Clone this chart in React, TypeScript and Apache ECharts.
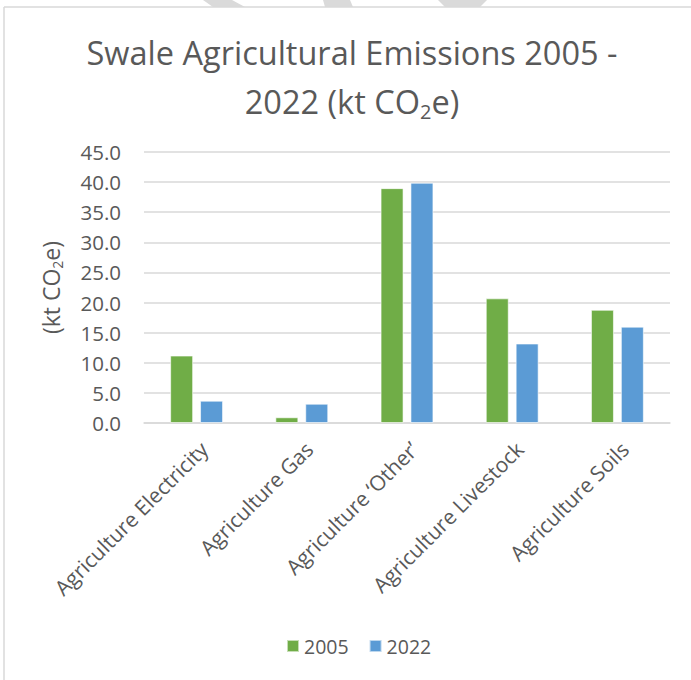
import React, { useEffect, useRef } from "react";
import * as echarts from "echarts";

const categories = [
  "Agriculture Electricity",
  "Agriculture Gas",
  "Agriculture \u2018Other\u2019",
  "Agriculture Livestock",
  "Agriculture Soils",
];
const values2005 = [11.2, 0.95, 39.0, 20.7, 18.8];
const values2022 = [3.7, 3.2, 39.9, 13.2, 16.0];
const seriesNames = ["2005", "2022"];
const colors = ["#70AD47", "#5B9BD5"];

const FONT = "'Open Sans', 'DejaVu Sans', sans-serif";
const GRAY = "#595959";

export default function App() {
  const ref = useRef<HTMLDivElement>(null);
  useEffect(() => {
    if (!ref.current) return;
    const chart = echarts.init(ref.current, undefined, { renderer: "svg" });
    chart.setOption({
      animation: false,
      backgroundColor: "#ffffff",
      title: {
        text: "Swale Agricultural Emissions 2005 -\n2022 (kt CO{sub|2}e)",
        left: 347,
        top: 23,
        textAlign: "center",
        textStyle: {
          fontFamily: FONT,
          fontSize: 32.5,
          fontWeight: "normal",
          color: GRAY,
          lineHeight: 49,
          rich: {
            sub: {
              fontFamily: FONT,
              fontSize: 20,
              color: GRAY,
              padding: [20, 0, 0, 0],
              lineHeight: 22,
            },
          },
        },
      },
      legend: {
        data: seriesNames,
        left: 281,
        top: 631,
        icon: "rect",
        itemWidth: 12,
        itemHeight: 12,
        itemGap: 20,
        textStyle: { fontFamily: FONT, fontSize: 19.5, color: GRAY },
      },
      graphic: [
        { type: "polygon", shape: { points: [[203, 0], [232, 0], [245, 7], [213, 7]] }, style: { fill: "#dadada" }, silent: true },
        { type: "polygon", shape: { points: [[323, 0], [350, 0], [353, 7], [325, 7]] }, style: { fill: "#dadada" }, silent: true },
        { type: "polygon", shape: { points: [[438, 0], [487, 0], [480, 7], [445, 7]] }, style: { fill: "#dadada" }, silent: true },
        { type: "line", shape: { x1: 4, y1: 7, x2: 691, y2: 7 }, style: { stroke: "#d9d9d9", lineWidth: 1.5 }, silent: true },
        { type: "line", shape: { x1: 4, y1: 7, x2: 4, y2: 680 }, style: { stroke: "#d9d9d9", lineWidth: 1.5 }, silent: true },
      ],
      grid: { left: 144, right: 21, top: 152, bottom: 257, containLabel: false },
      xAxis: {
        type: "category",
        data: categories,
        axisLine: { lineStyle: { color: "#d9d9d9", width: 1.5 } },
        axisTick: { show: false },
        axisLabel: {
          rotate: 45,
          interval: 0,
          margin: 15,
          verticalAlign: "top",
          fontFamily: FONT,
          fontSize: 21,
          color: GRAY,
        },
      },
      yAxis: {
        type: "value",
        min: 0,
        max: 45,
        interval: 5,
        name: "(kt CO{sub|2}e)",
        nameLocation: "middle",
        nameRotate: 90,
        nameGap: 80,
        nameTextStyle: {
          fontFamily: FONT,
          fontSize: 23,
          color: GRAY,
          rich: {
            sub: { fontFamily: FONT, fontSize: 14, color: GRAY, padding: [13, 0, 0, 0] },
          },
        },
        axisLine: { show: false },
        axisTick: { show: false },
        splitLine: { lineStyle: { color: "#d9d9d9", width: 1.5 } },
        axisLabel: {
          margin: 23,
          fontFamily: FONT,
          fontSize: 20.5,
          color: GRAY,
          formatter: (v: number) => v.toFixed(1),
        },
      },
      series: [
        {
          name: seriesNames[0],
          type: "bar",
          data: values2005,
          barWidth: 23,
          barGap: "30%",
          itemStyle: { color: colors[0], borderColor: "rgba(255,255,255,0.6)", borderWidth: 1 },
        },
        {
          name: seriesNames[1],
          type: "bar",
          data: values2022,
          barWidth: 23,
          barGap: "30%",
          itemStyle: { color: colors[1], borderColor: "rgba(255,255,255,0.6)", borderWidth: 1 },
        },
      ],
    });
    return () => chart.dispose();
  }, []);
  return (
    <div
      ref={ref}
      style={{ position: "fixed", left: 0, top: 0, width: 691, height: 680 }}
    />
  );
}
